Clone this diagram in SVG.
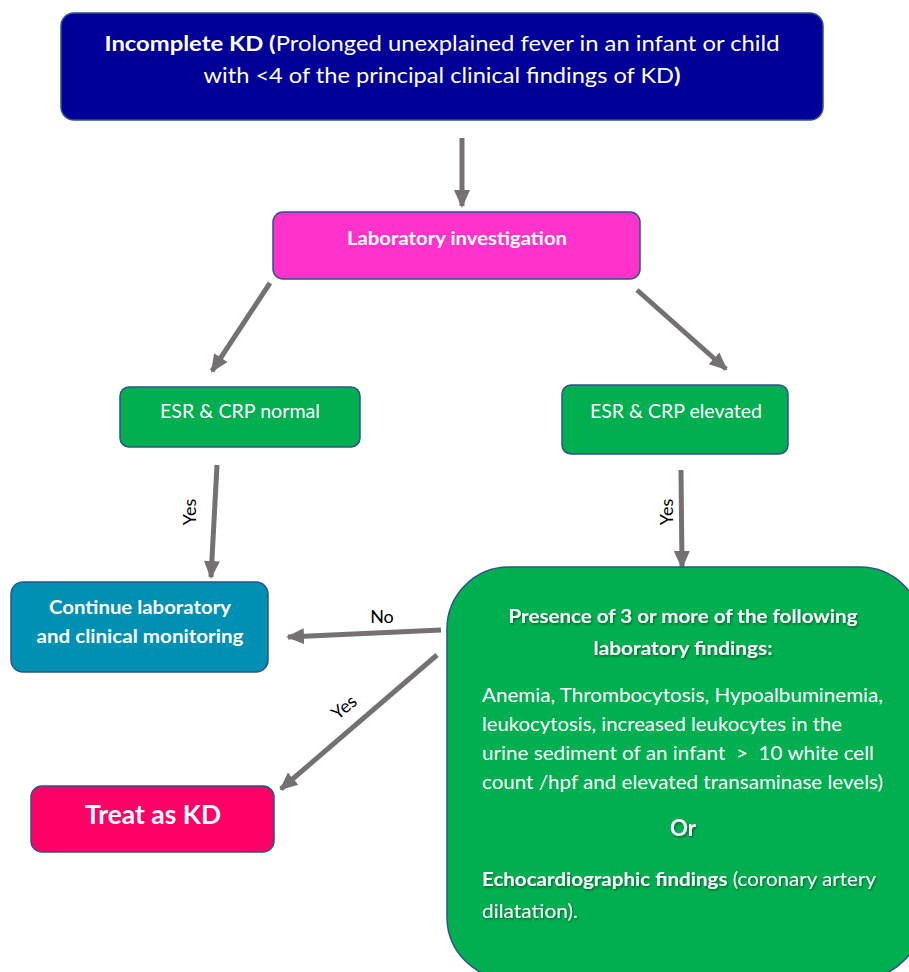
<svg xmlns="http://www.w3.org/2000/svg" width="909" height="972" viewBox="0 0 909 972">
  <style>
    .box { stroke: #2f528f; stroke-width: 1.5; }
    .t { font-family: Lato, "Open Sans", "Liberation Sans", sans-serif; fill: #ffffff; }
    .b { font-weight: bold; }
    .pre { white-space: pre; }
    .lbl { font-family: Lato, "Open Sans", "Liberation Sans", sans-serif; font-size: 18px; fill: #000000; }
    .conn { stroke: #767171; stroke-width: 5; fill: none; marker-end: url(#head); }
  </style>
  <defs>
    <marker id="head" markerUnits="userSpaceOnUse" markerWidth="18" markerHeight="18" viewBox="0 0 18 18" refX="16" refY="9" orient="auto">
      <path d="M0,1 L18,9 L0,17 Z" fill="#767171"/>
    </marker>
    <filter id="shadow" x="-5%" y="-20%" width="110%" height="140%">
      <feDropShadow dx="1" dy="1.5" stdDeviation="0.8" flood-color="#000000" flood-opacity="0.45"/>
    </filter>
  </defs>

  <!-- connectors -->
  <g id="connectors">
    <line class="conn" x1="462" y1="138" x2="462" y2="206"/>
    <line class="conn" x1="270" y1="283" x2="212" y2="371"/>
    <line class="conn" x1="637" y1="290" x2="726" y2="369"/>
    <line class="conn" x1="217" y1="465" x2="211" y2="577"/>
    <line class="conn" x1="681" y1="470" x2="682" y2="567"/>
    <line class="conn" x1="441" y1="630" x2="288" y2="637"/>
    <line class="conn" x1="437" y1="655" x2="281" y2="789"/>
    <text class="lbl" transform="translate(196,512) rotate(-90)" text-anchor="middle">Yes</text>
    <text class="lbl" transform="translate(673,512) rotate(-90)" text-anchor="middle">Yes</text>
    <text class="lbl" x="382" y="623" text-anchor="middle">No</text>
    <text class="lbl" transform="translate(348,712) rotate(-40)" text-anchor="middle">Yes</text>
  </g>

  <!-- start node -->
  <g id="incomplete-kd">
    <rect class="box" x="61" y="13" width="762" height="107" rx="13" fill="#000099"/>
    <text class="t" x="442" y="51" font-size="21.5" text-anchor="middle" textLength="675" lengthAdjust="spacingAndGlyphs"><tspan class="b">Incomplete KD (</tspan>Prolonged unexplained fever in an infant or child</text>
    <text class="t" x="442" y="83" font-size="21.5" text-anchor="middle" textLength="477" lengthAdjust="spacingAndGlyphs">with &lt;4 of the principal clinical findings of KD<tspan class="b">)</tspan></text>
  </g>

  <g id="lab-investigation">
    <rect class="box" x="273" y="212" width="367" height="67" rx="10" fill="#ff33cc"/>
    <text class="t b" x="457" y="245" font-size="19" text-anchor="middle" textLength="220" lengthAdjust="spacingAndGlyphs">Laboratory investigation</text>
  </g>

  <g id="esr-normal">
    <rect class="box" x="120" y="387" width="240" height="60" rx="9" fill="#00b050"/>
    <text class="t" x="240" y="418" font-size="19" text-anchor="middle" textLength="160" lengthAdjust="spacingAndGlyphs">ESR &amp; CRP normal</text>
  </g>

  <g id="esr-elevated">
    <rect class="box" x="562" y="385" width="226" height="69" rx="9" fill="#00b050"/>
    <text class="t" x="676" y="418" font-size="19" text-anchor="middle" textLength="172" lengthAdjust="spacingAndGlyphs">ESR &amp; CRP elevated</text>
  </g>

  <g id="continue-monitoring">
    <rect class="box" x="11" y="582" width="257" height="90" rx="12" fill="#0090b4"/>
    <text class="t b" x="140" y="614" font-size="19" text-anchor="middle" textLength="182" lengthAdjust="spacingAndGlyphs">Continue laboratory</text>
    <text class="t b" x="140" y="643" font-size="19" text-anchor="middle" textLength="207" lengthAdjust="spacingAndGlyphs">and clinical monitoring</text>
  </g>

  <g id="treat-kd">
    <rect class="box" x="31" y="786" width="243" height="66" rx="11" fill="#ff0066"/>
    <text class="t b" x="153" y="824" font-size="26" text-anchor="middle" textLength="136" lengthAdjust="spacingAndGlyphs">Treat as KD</text>
  </g>

  <g id="lab-findings">
    <rect class="box" x="447" y="567" width="475" height="412" rx="62" fill="#00b050"/>
    <g filter="url(#shadow)">
      <text class="t b" x="683" y="623" font-size="19" text-anchor="middle" textLength="349" lengthAdjust="spacingAndGlyphs">Presence of 3 or more of the following</text>
      <text class="t b" x="683" y="655" font-size="19" text-anchor="middle" textLength="179" lengthAdjust="spacingAndGlyphs">laboratory findings:</text>
      <text class="t b" x="683" y="836" font-size="22" text-anchor="middle" textLength="26" lengthAdjust="spacingAndGlyphs">Or</text>
      <text class="t" x="482" y="886" font-size="19" textLength="394" lengthAdjust="spacingAndGlyphs"><tspan class="b">Echocardiographic findings</tspan> (coronary artery</text>
      <text class="t" x="482" y="918" font-size="19" textLength="96" lengthAdjust="spacingAndGlyphs">dilatation).</text>
    </g>
    <text class="t" x="482" y="702" font-size="19" textLength="401" lengthAdjust="spacingAndGlyphs">Anemia, Thrombocytosis, Hypoalbuminemia,</text>
    <text class="t" x="482" y="731" font-size="19" textLength="360" lengthAdjust="spacingAndGlyphs">leukocytosis, increased leukocytes in the</text>
    <text class="t pre" x="482" y="760" font-size="19" textLength="392" lengthAdjust="spacingAndGlyphs">urine sediment of an infant  &gt;  10 white cell</text>
    <text class="t" x="482" y="789" font-size="19" textLength="401" lengthAdjust="spacingAndGlyphs">count /hpf and elevated transaminase levels)</text>
  </g>
</svg>
